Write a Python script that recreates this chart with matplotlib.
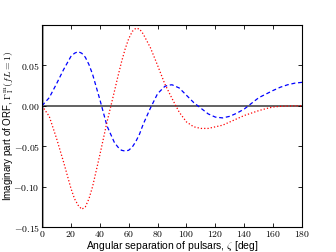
#!/usr/bin/env python3

import matplotlib

matplotlib.use("Agg")
import matplotlib.pyplot as plt
from matplotlib.ticker import FuncFormatter

# angular separation samples [deg], denser round the turning points
zeta = [0, 5, 10, 15, 20, 22.5, 25, 27.5, 30, 32.5, 35, 40, 45, 50, 52.5, 55, 57.5,
        60, 62.5, 65, 67.5, 70, 75, 80, 85, 87.5, 90, 95, 100, 105, 110, 115, 120,
        125, 130, 135, 140, 145, 150, 155, 160, 165, 170, 175, 180]

# blue dashed curve
im_blue = [0.0, 0.010, 0.027, 0.045, 0.061, 0.065, 0.067, 0.065, 0.060, 0.051,
           0.039, 0.008, -0.025, -0.045, -0.051, -0.055, -0.056, -0.055, -0.051,
           -0.044, -0.035, -0.023, -0.003, 0.015, 0.024, 0.0255, 0.026, 0.022,
           0.013, 0.004, -0.003, -0.010, -0.014, -0.015, -0.013, -0.009, -0.004,
           0.003, 0.010, 0.0145, 0.019, 0.023, 0.026, 0.028, 0.029]

# red dotted curve
im_red = [0.0, -0.013, -0.040, -0.070, -0.102, -0.115, -0.123, -0.128, -0.125,
          -0.115, -0.100, -0.061, -0.020, 0.017, 0.036, 0.054, 0.070, 0.083,
          0.092, 0.096, 0.095, 0.089, 0.072, 0.050, 0.027, 0.018, 0.009, -0.008,
          -0.020, -0.026, -0.028, -0.028, -0.026, -0.024, -0.020, -0.016, -0.012,
          -0.009, -0.006, -0.0035, -0.0015, -0.0007, -0.0003, -0.0001, 0.0]

xticks = [0, 20, 40, 60, 80, 100, 120, 140, 160, 180]
yticks = [-0.15, -0.10, -0.05, 0.00, 0.05, 0.10]


def main():
    plt.rcParams.update(
        {
            "font.family": ["Liberation Sans", "DejaVu Sans"],
            "mathtext.fontset": "cm",
            "xtick.direction": "in",
            "ytick.direction": "in",
            "xtick.top": True,
            "ytick.right": True,
            "xtick.labelsize": 7,
            "ytick.labelsize": 7,
        }
    )

    fig = plt.figure(figsize=(3.36, 2.52), dpi=100)
    ax = fig.add_axes([0.125, 0.099, 0.774, 0.802])

    ax.axhline(0, color="#555555", lw=1.3, zorder=1)
    ax.axvline(0, color="#888888", lw=1.8, zorder=1)
    ax.plot(zeta, im_blue, color="blue", ls="--", lw=0.9, dashes=(3.2, 2.2))
    ax.plot(zeta, im_red, color="red", ls=":", lw=0.9)

    ax.set_xlim(0, 180)
    ax.set_ylim(-0.15, 0.10)
    ax.set_xticks(xticks)
    ax.set_yticks(yticks)
    ax.xaxis.set_major_formatter(FuncFormatter(lambda v, p: r"$%d$" % v))
    ax.yaxis.set_major_formatter(
        FuncFormatter(lambda v, p: "" if v > 0.09 else r"$%.2f$" % v)
    )
    ax.tick_params(length=3, width=0.6, pad=1.5)
    for sp in ax.spines.values():
        sp.set_linewidth(0.8)

    ax.set_xlabel(r"Angular separation of pulsars, $\zeta$ [deg]", fontsize=7.5,
                  labelpad=0)
    ax.set_ylabel(r"Imaginary part of ORF, $\Gamma^{\rm m}_{\rm I}(fL=1)$",
                  fontsize=7)
    ax.yaxis.set_label_coords(-0.1, 0.5)

    fig.savefig("out.png", dpi=100)
    plt.close(fig)


if __name__ == "__main__":
    main()
